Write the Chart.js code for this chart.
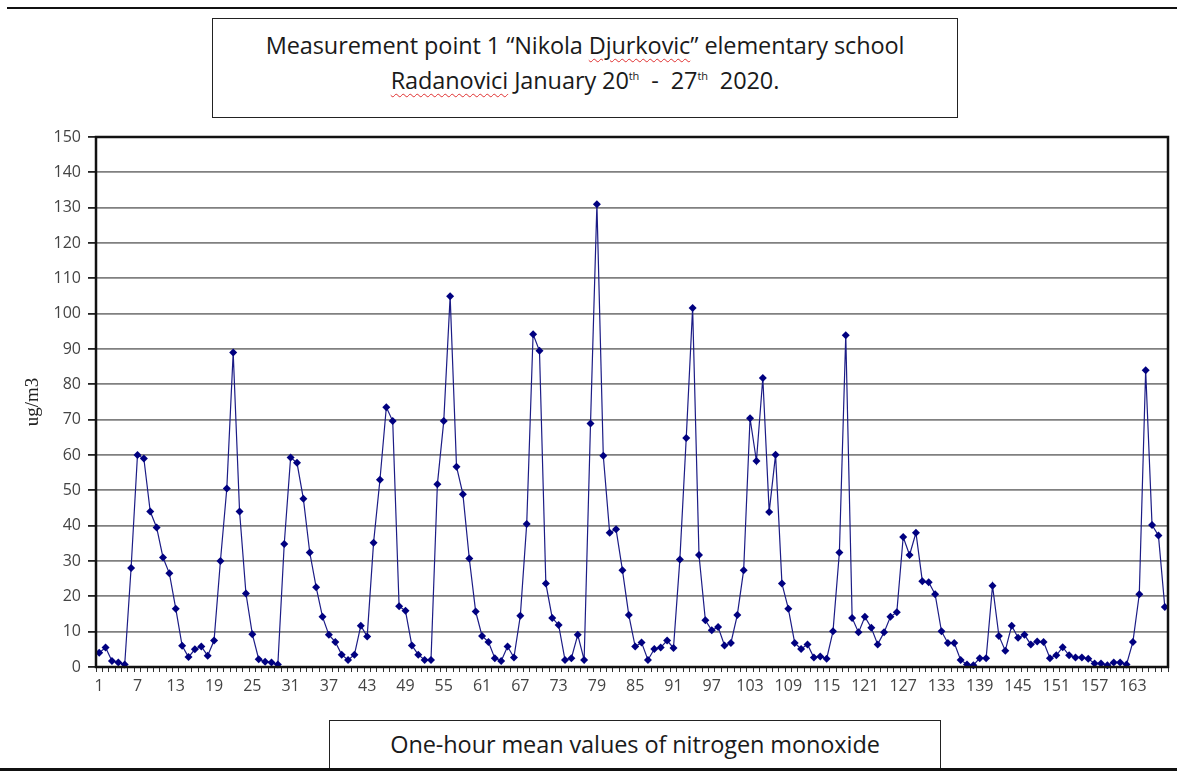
<!DOCTYPE html>
<html>
<head>
<meta charset="utf-8">
<script src="https://cdn.jsdelivr.net/npm/chart.js@4/dist/chart.umd.min.js"></script>
<style>
  html, body { margin: 0; padding: 0; background: #fff; }
  #wrap { position: relative; width: 1177px; height: 773px; overflow: hidden; }
  #nox { position: absolute; left: 0; top: 0; }
  .rule-top { position: absolute; left: 7px; right: 0; top: 7px; height: 2px; background: #111; }
  .rule-bottom { position: absolute; left: 0; right: 0; top: 768px; height: 3px; background: #111; }
  .box {
    position: absolute; background: #fff; border: 1.5px solid #222;
    font-family: "Open Sans", "Noto Sans", sans-serif; color: #1a1a1a; text-align: center;
    box-sizing: border-box;
  }
  .title { left: 212px; top: 18px; width: 746px; height: 100px; font-size: 23.5px; line-height: 35px; padding-top: 9px; letter-spacing: -0.1px; }
  .caption { left: 329px; top: 720px; width: 612px; height: 50px; font-size: 23.5px; line-height: 47px; letter-spacing: -0.1px; }
  .sp { text-decoration: underline wavy #e03030 1px; text-underline-offset: 4px; }
  sup { font-size: 11px; line-height: 0; }
</style>
</head>
<body>
<div id="wrap">
  <canvas id="nox" width="1177" height="773"></canvas>
  <div class="rule-top"></div>
  <div class="box title">
    Measurement point 1 “Nikola <span class="sp">Djurkovic</span>” elementary school<br>
    <span class="sp">Radanovici</span> January 20<sup>th</sup>&nbsp; - &nbsp;27<sup>th</sup>&nbsp;&nbsp;2020.
  </div>
  <div class="box caption">One-hour mean values of nitrogen monoxide</div>
  <div class="rule-bottom"></div>
</div>
<script>
// hourly NO values (ug/m3), one array per day, Jan 20 - 26
const jan20 = [4, 5.5, 1.7, 1.3, 0.7, 28, 60, 59, 44, 39.5, 31, 26.5, 16.5, 6, 2.8, 5, 5.8, 3.2, 7.5, 30, 50.5, 89, 44, 20.8];
const jan21 = [9.3, 2.2, 1.5, 1.3, 0.7, 34.8, 59.3, 57.8, 47.6, 32.4, 22.6, 14.2, 9.1, 7.1, 3.5, 2.0, 3.5, 11.7, 8.6, 35.2, 53, 73.5, 69.6, 17.2];
const jan22 = [15.9, 6.1, 3.5, 2.0, 2.0, 51.7, 69.6, 104.9, 56.7, 48.9, 30.7, 15.7, 8.8, 7.1, 2.5, 1.7, 5.8, 2.7, 14.5, 40.5, 94.2, 89.5, 23.6, 13.9];
const jan23 = [11.9, 2.0, 2.5, 9.1, 2.0, 68.9, 131, 59.8, 38, 39, 27.4, 14.7, 5.8, 6.9, 2.0, 5.1, 5.5, 7.5, 5.4, 30.4, 64.8, 101.6, 31.7, 13.2];
const jan24 = [10.4, 11.3, 6.1, 6.8, 14.7, 27.4, 70.4, 58.3, 81.8, 43.9, 60.1, 23.6, 16.5, 6.8, 5.1, 6.4, 2.7, 3.0, 2.3, 10.1, 32.4, 93.9, 13.9, 9.8];
const jan25 = [14.2, 11.1, 6.4, 9.8, 14.2, 15.5, 36.8, 31.7, 38, 24.3, 24, 20.6, 10.1, 6.8, 6.8, 2.0, 0.7, 0.5, 2.5, 2.5, 23, 8.8, 4.6, 11.7];
const jan26 = [8.3, 9.1, 6.4, 7.2, 7.1, 2.5, 3.3, 5.6, 3.3, 2.7, 2.7, 2.3, 1.0, 1.0, 0.5, 1.3, 1.3, 0.7, 7.1, 20.6, 84, 40.2, 37.2, 17];

const values = [].concat(jan20, jan21, jan22, jan23, jan24, jan25, jan26);
const hours = values.map((v, i) => String(i + 1));   // category labels 1..168
const LABEL_EVERY = 6;                                // x labels 1, 7, 13 ... 163
const Y_MIN = 0, Y_MAX = 150, Y_STEP = 10;

const NAVY = "#000080";
const TICK_FONT = { family: "'Open Sans', 'Noto Sans', sans-serif", size: 16 };

/* black frame round the plot area */
const plotFrame = {
  id: "plotFrame",
  afterDraw(chart) {
    const { ctx, chartArea: a } = chart;
    ctx.save();
    ctx.strokeStyle = "#111";
    ctx.lineWidth = 2.5;
    ctx.strokeRect(a.left, a.top, a.right - a.left, a.bottom - a.top);
    ctx.restore();
  },
};

new Chart(document.getElementById("nox"), {
  type: "line",
  data: {
    labels: hours,
    datasets: [{
      data: values,
      borderColor: "#1c1c86",
      borderWidth: 1.2,
      backgroundColor: NAVY,
      pointStyle: "rectRot",
      pointRadius: 4,
      pointBorderWidth: 0,
      pointBackgroundColor: NAVY,
      tension: 0,
      clip: false,
    }],
  },
  options: {
    responsive: false,
    animation: false,
    events: [],
    layout: { padding: { left: 0, top: 137, right: 9, bottom: 76 } },
    plugins: { legend: { display: false }, tooltip: { enabled: false } },
    scales: {
      x: {
        type: "category",
        offset: true,
        afterFit(s) { s.height = 30; },
        grid: { offset: true, drawOnChartArea: false, drawTicks: true, tickLength: 5, tickColor: "#333", lineWidth: 1 },
        border: { display: false },
        ticks: {
          autoSkip: false, maxRotation: 0, minRotation: 0, padding: 5,
          color: "#444", font: TICK_FONT,
          callback: (val, i) => (i % LABEL_EVERY === 0 ? hours[i] : ""),
        },
      },
      y: {
        min: Y_MIN, max: Y_MAX,
        afterFit(s) { s.width = 96; },
        grid: { color: "#808080", lineWidth: 1.8, drawTicks: true, tickLength: 8, tickColor: "#222" },
        border: { display: false },
        ticks: { stepSize: Y_STEP, padding: 7, color: "#444", font: TICK_FONT },
        title: {
          display: true, text: "ug/m3", color: "#222",
          font: { family: "'Liberation Serif', 'DejaVu Serif', serif", size: 19 },
          padding: { top: 22, bottom: 0 },
        },
      },
    },
  },
  plugins: [plotFrame],
});
</script>
</body>
</html>
